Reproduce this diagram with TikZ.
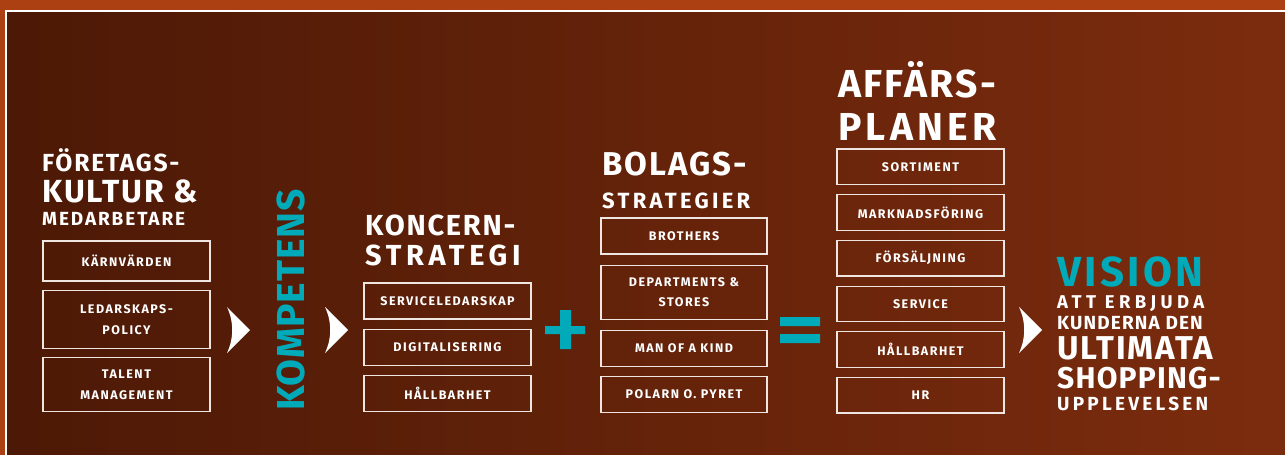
\documentclass[tikz,border=0pt]{standalone}
\usepackage{fontspec}
\setmainfont{Fira Sans}
\usetikzlibrary{positioning}

\definecolor{bgout}{HTML}{AC4012}
\definecolor{bgdark}{HTML}{4C1906}
\definecolor{bglight}{HTML}{7C2C0E}
\definecolor{visionteal}{HTML}{00AAB8}
\definecolor{boxline}{HTML}{EFE6E2}

% size (pt = px) and tracking of a line
\newcommand\hd[2]{\fontsize{#1}{#1}\selectfont\bfseries\addfontfeatures{LetterSpace=#2}}
\newcommand\itemfont{\fontsize{12.5}{21}\selectfont\bfseries\addfontfeatures{LetterSpace=12}}
\newcommand\chev[2]{\fill[white] (#1-11,#2-23) -- (#1+12,#2) -- (#1-11,#2+23) .. controls (#1-4,#2+8) and (#1-4,#2-8) .. (#1-11,#2-23) -- cycle;}

\tikzset{
  head/.style={anchor=base west, inner sep=0pt, text depth=0pt, text=white},
  itembox/.style={draw=boxline, line width=1.2pt, minimum width=167pt, minimum height=36pt,
    inner sep=0pt, text=white, align=center, font=\itemfont},
}

\begin{document}
\begin{tikzpicture}[x=1pt,y=-1pt]
\useasboundingbox (0,0) rectangle (1285,455);
% background and frame
\fill[bgout] (0,0) rectangle (1285,455);
\shade[left color=bgdark, right color=bglight] (6,11) rectangle (1285,455);
\draw[white, line width=2pt] (1285,11) -- (6,11) -- (6,455);

% column 1
\node[head, font=\hd{24.7}{7}] (fk1) at (42,171) {FÖRETAGS-};
\node[head, font=\hd{32}{6}] (fk2) at (42,202) {KULTUR \&};
\node[head, font=\hd{19}{10}] (fk3) at (42,225) {MEDARBETARE};
\node[itembox, minimum height=40pt] (kv) at (126.5,261) {KÄRNVÄRDEN};
\node[itembox, minimum height=58pt, below=8pt of kv] (lp) {LEDARSKAPS-\\POLICY};
\node[itembox, minimum height=54pt, below=8pt of lp] (tm) {TALENT\\MANAGEMENT};

\chev{238}{330}
\node[head, rotate=90, text=visionteal, font=\hd{39}{2}] (komp) at (304,411) {KOMPETENS};
\chev{336}{330}

% column 2
\node[head, font=\hd{29}{6}] (ks1) at (365,235) {KONCERN-};
\node[head, font=\hd{29}{16}] (ks2) at (365,265) {STRATEGI};
\node[itembox] (sl) at (447.5,301) {SERVICELEDARSKAP};
\node[itembox, below=9pt of sl] (dig) {DIGITALISERING};
\node[itembox, below=9pt of dig] (hb1) {HÅLLBARHET};

% plus
\fill[visionteal] (560,310) rectangle (571,349) (545,326) rectangle (585,334);

% column 3
\node[head, font=\hd{33}{6}] (bs1) at (602,175) {BOLAGS-};
\node[head, font=\hd{22}{15}] (bs2) at (602,208) {STRATEGIER};
\node[itembox, minimum width=166pt] (bro) at (684,236) {BROTHERS};
\node[itembox, minimum width=166pt, minimum height=54pt, below=10pt of bro] (dep) {DEPARTMENTS \&\\[-1pt]STORES};
\node[itembox, minimum width=166pt, below=10pt of dep] (moak) {MAN OF A KIND};
\node[itembox, minimum width=166pt, below=9pt of moak] (pop) {POLARN O. PYRET};

% equals
\fill[visionteal] (780,317) rectangle (820,326) (780,334) rectangle (820,343);

% column 4
\node[head, font=\hd{39}{6}] (ap1) at (838,97) {AFFÄRS-};
\node[head, font=\hd{39}{11}] (ap2) at (838,140) {PLANER};
\node[itembox, minimum height=35.5pt] (sort) at (920.5,166.75) {SORTIMENT};
\node[itembox, minimum height=35.5pt, below=9pt of sort] (mark) {MARKNADSFÖRING};
\node[itembox, minimum height=35.5pt, below=9pt of mark] (fors) {FÖRSÄLJNING};
\node[itembox, minimum height=35.5pt, below=9pt of fors] (serv) {SERVICE};
\node[itembox, minimum height=35.5pt, below=9pt of serv] (hb2) {HÅLLBARHET};
\node[itembox, minimum height=35.5pt, below=9pt of hb2] (hr) {HR};

\chev{1030}{330}

% vision
\node[head, text=visionteal, font=\hd{42}{8}] (vis) at (1057,286) {VISION};
\node[head, font=\hd{18.5}{24}] (v1) at (1057,308) {ATT ERBJUDA};
\node[head, font=\hd{19}{6}] (v2) at (1057,329) {KUNDERNA DEN};
\node[head, font=\hd{33}{6}] (v3) at (1057,359) {ULTIMATA};
\node[head, font=\hd{30}{4}] (v4) at (1057,388) {SHOPPING-};
\node[head, font=\hd{19}{17}] (v5) at (1057,410) {UPPLEVELSEN};
\end{tikzpicture}
\end{document}
